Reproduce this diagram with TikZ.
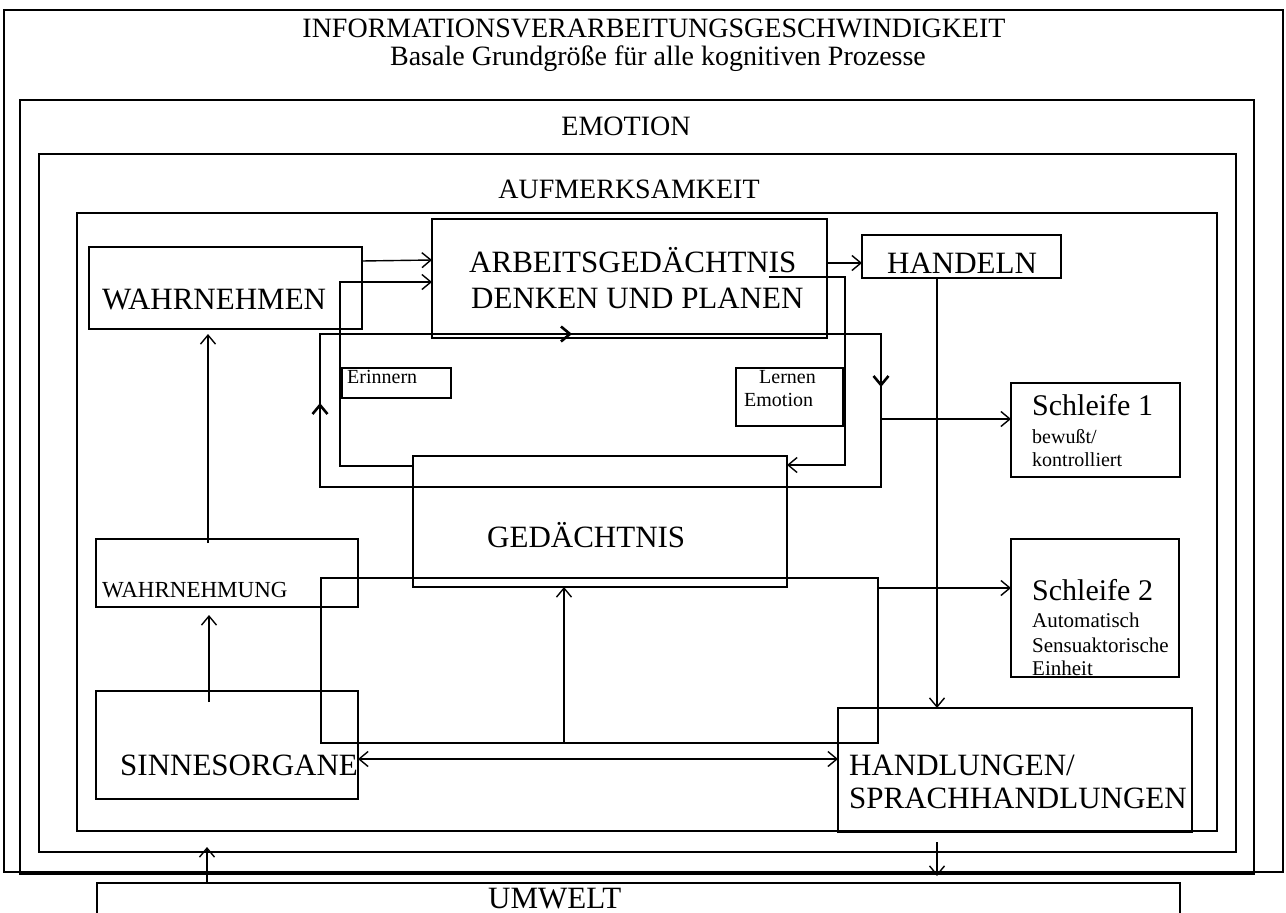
\documentclass[tikz,border=0pt]{standalone}
\usepackage{fontspec}
\setmainfont{Liberation Serif}
\usetikzlibrary{arrows.meta}
\tikzset{
 box/.style={draw,line width=1.6pt,inner sep=0pt,outer sep=0pt,anchor=north west},
 frame/.style={box,line width=1.4pt},
 loopbox/.style={box,line width=2.6pt},
 arr/.style={line width=1.4pt,-{Straight Barb[length=9pt,width=15pt]}},
 bothway/.style={line width=1.4pt,{Straight Barb[length=9pt,width=15pt]}-{Straight Barb[length=9pt,width=15pt]}},
 big/.style={font=\fontsize{31}{36}\selectfont,inner sep=0pt,anchor=base west},
 small/.style={font=\fontsize{20}{24}\selectfont,inner sep=0pt,anchor=base west},
 head/.style={font=\fontsize{28}{32}\selectfont,inner sep=0pt,anchor=base},
}
\begin{document}
\begin{tikzpicture}[x=1pt,y=-1pt]
\useasboundingbox (0,0) rectangle (1286,913);
\clip (0,0) rectangle (1286,913);
\node[frame,minimum width=1279pt,minimum height=862pt] (info) at (4,10) {};
\node[frame,minimum width=1234pt,minimum height=774pt] (emotion) at (20,100) {};
\node[frame,minimum width=1197pt,minimum height=698pt] (aufm) at (39,154) {};
\node[frame,minimum width=1140pt,minimum height=618pt] (innen) at (77,213) {};
\node[head] (infotx1) at (654,37) {INFORMATIONSVERARBEITUNGSGESCHWINDIGKEIT};
\node[head] (infotx2) at (658,65) {Basale Grundgröße für alle kognitiven Prozesse};
\node[head] (emotiontx) at (626,135) {EMOTION};
\node[head] (aufmtx) at (629,198) {AUFMERKSAMKEIT};
\node[box,minimum width=273pt,minimum height=82pt] (wahrnehmen) at (89,247) {};
\node[big] (wahrnehmentx) at (102,309) {WAHRNEHMEN};
\node[box,minimum width=395pt,minimum height=119pt] (arbeit) at (432,219) {};
\node[big] (arbeittx1) at (469,272) {ARBEITSGEDÄCHTNIS};
\node[big] (arbeittx2) at (471,308) {DENKEN UND PLANEN};
\node[box,minimum width=199pt,minimum height=43pt] (handeln) at (862,235) {};
\node[big] (handelntx) at (887,273) {HANDELN};
\node[loopbox,minimum width=561pt,minimum height=153pt] (oben) at (320,334) {};
\node[box,minimum width=109pt,minimum height=30pt] (erinnern) at (342,368) {};
\node[small] (erinnerntx) at (347,383) {Erinnern};
\node[box,minimum width=107pt,minimum height=58pt] (lernen) at (736,368) {};
\node[small] (lernentx1) at (759,383) {Lernen};
\node[small] (lernentx2) at (744,406) {Emotion};
\node[box,minimum width=374pt,minimum height=131pt] (gedaechtnis) at (413,456) {};
\node[big] (gedaechtnistx) at (487,547) {GEDÄCHTNIS};
\node[box,minimum width=169pt,minimum height=94pt] (schleife1) at (1011,383) {};
\node[big,font=\fontsize{30}{36}\selectfont] (schleife1tx1) at (1032,415) {Schleife 1};
\node[small] (schleife1tx2) at (1032,443) {bewußt/};
\node[small] (schleife1tx3) at (1032,466) {kontrolliert};
\node[box,minimum width=168pt,minimum height=138pt] (schleife2) at (1011,539) {};
\node[big,font=\fontsize{30}{36}\selectfont] (schleife2tx1) at (1032,600) {Schleife 2};
\node[small,font=\fontsize{21}{25}\selectfont] (schleife2tx2) at (1032,627) {Automatisch};
\node[small,font=\fontsize{21}{25}\selectfont] (schleife2tx3) at (1032,652) {Sensuaktorische};
\node[small,font=\fontsize{21}{25}\selectfont] (schleife2tx4) at (1032,675) {Einheit};
\node[box,minimum width=262pt,minimum height=68pt] (wahrnehmung) at (96,539) {};
\node[small,font=\fontsize{23}{27}\selectfont] (wahrnehmungtx) at (102,597) {WAHRNEHMUNG};
\node[loopbox,minimum width=557pt,minimum height=165pt] (unten) at (321,578) {};
\node[box,minimum width=262pt,minimum height=108pt] (sinnes) at (96,691) {};
\node[big] (sinnestx) at (120,775) {SINNESORGANE};
\node[box,minimum width=354pt,minimum height=124pt] (handlungen) at (838,708) {};
\node[big] (handlungentx1) at (849,775) {HANDLUNGEN/};
\node[big] (handlungentx2) at (849,808) {SPRACHHANDLUNGEN};
\node[box,minimum width=1083pt,minimum height=60pt] (umwelt) at (97,883) {};
\node[big] (umwelttx) at (488,908) {UMWELT};
\coordinate (lernstart) at (769,277);
\draw[arr] (wahrnehmen.east |- 0,261) -- (arbeit.west |- 0,260);
\draw[arr] (gedaechtnis.west |- 0,466) -- (340,466) |- (arbeit.west |- 0,282);
\draw[arr] (lernstart) -- (845,277) -- (845,465) -- (gedaechtnis.east |- 0,465);
\draw[arr] (arbeit.east |- 0,263) -- (handeln.west |- 0,263);
\draw[arr] (handeln.south -| 937,0) -- (handlungen.north -| 937,0);
\draw[arr,line width=2.6pt] (oben.north west) -- (oben.north west -| 572,0);
\draw[arr,line width=2.6pt] (oben.south west) -- (oben.south west |- 0,403);
\draw[arr,line width=2.6pt] (oben.north east) -- (oben.north east |- 0,387);
\draw[arr] (oben.east |- 0,419) -- (schleife1.west |- 0,419);
\draw[arr] (unten.east |- 0,588) -- (schleife2.west |- 0,588);
\draw[arr] (unten.south -| 564,0) -- (gedaechtnis.south -| 564,0);
\draw[bothway] (sinnes.east |- 0,759) -- (handlungen.west |- 0,759);
\draw[arr,shorten <=-11pt,shorten >=8pt] (sinnes.north -| 209,0) -- (wahrnehmung.south -| 209,0);
\draw[arr,shorten <=-4pt,shorten >=5pt] (wahrnehmung.north -| 208,0) -- (wahrnehmen.south -| 208,0);
\draw[arr,shorten >=-5pt] (umwelt.north -| 207,0) -- (aufm.south -| 207,0);
\draw[arr,shorten <=-10pt,shorten >=7pt] (aufm.south -| 937,0) -- (umwelt.north -| 937,0);
\end{tikzpicture}
\end{document}
